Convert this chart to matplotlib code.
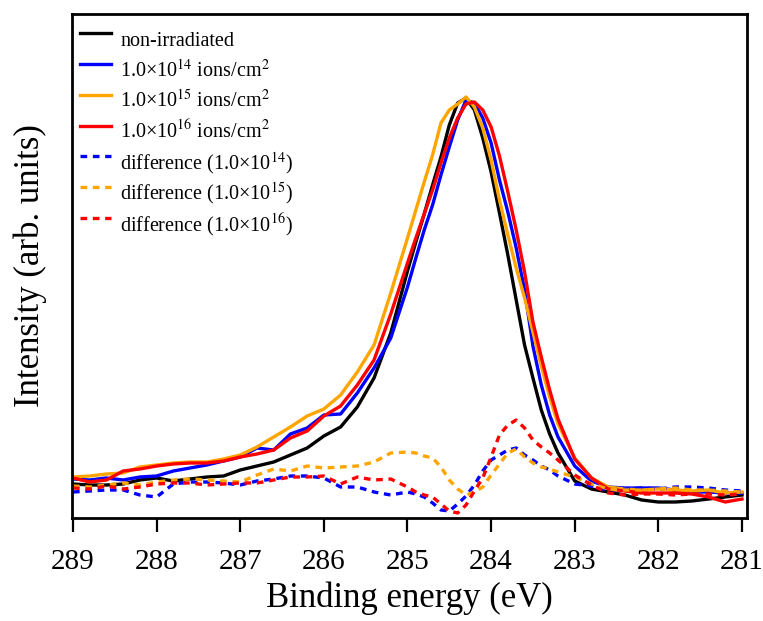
import matplotlib
matplotlib.use("Agg")
import matplotlib.pyplot as plt
import numpy as np

plt.rcParams['font.family'] = ['Liberation Serif', 'DejaVu Serif']
plt.rcParams['mathtext.fontset'] = 'stix'

# binding energy grid (eV)
energy = [289.0, 288.8, 288.6, 288.4, 288.2, 288.0, 287.8, 287.6, 287.4, 287.2,
          287.0, 286.8, 286.6, 286.4, 286.2, 286.0, 285.8, 285.6, 285.4, 285.2,
          285.0, 284.9, 284.8, 284.7, 284.6, 284.5, 284.4, 284.3, 284.2, 284.1,
          284.0, 283.9, 283.8, 283.7, 283.6, 283.5, 283.4, 283.3, 283.2, 283.0,
          282.8, 282.6, 282.4, 282.2, 282.0, 281.8, 281.6, 281.4, 281.2, 281.0]

# intensities (arb. units)
non_irr = [34, 33, 33, 34, 38, 40, 37, 39, 41, 42, 48, 52, 56, 63, 70, 82, 91, 111, 140, 185,
           247, 276, 304, 333, 361, 393, 415, 420, 408, 380, 346, 305, 263, 218, 173, 140, 108, 84, 65, 37,
           29, 26, 23, 18, 16, 16, 17, 19, 21, 23]
irr_14 = [39, 38, 40, 38, 41, 42, 47, 50, 53, 57, 61, 70, 68, 84, 90, 103, 104, 125, 150, 180,
          231, 260, 288, 313, 343, 371, 398, 418, 415, 400, 375, 338, 306, 270, 228, 172, 133, 103, 81, 52,
          37, 31, 30, 30, 30, 28, 26, 26, 25, 25]
irr_15 = [41, 42, 44, 45, 51, 53, 55, 56, 56, 59, 63, 71, 81, 91, 102, 109, 123, 146, 173, 225,
          280, 308, 336, 363, 395, 408, 414, 421, 411, 390, 358, 318, 283, 250, 220, 186, 152, 121, 94, 60,
          40, 31, 29, 28, 29, 28, 27, 28, 25, 26]
irr_16 = [40, 36, 38, 47, 49, 52, 54, 55, 55, 57, 61, 64, 68, 80, 87, 102, 112, 133, 158, 204,
          255, 280, 304, 328, 355, 380, 400, 414, 416, 408, 391, 362, 326, 288, 246, 196, 161, 128, 99, 59,
          40, 29, 27, 25, 25, 25, 24, 21, 16, 19]

diff_14 = [26, 27, 28, 28, 23, 21, 34, 36, 36, 35, 33, 37, 39, 42, 42, 40, 31, 31, 26, 23,
           26, 24, 21, 15, 8, 7, 14, 22, 33, 47, 58, 63, 68, 70, 63, 58, 52, 48, 42, 34,
           32, 28, 29, 30, 29, 31, 31, 30, 28, 27]
diff_15 = [32, 31, 33, 35, 33, 36, 38, 39, 38, 37, 36, 43, 49, 47, 52, 50, 51, 52, 56, 65,
           66, 65, 62, 60, 51, 38, 29, 23, 26, 31, 43, 54, 65, 69, 61, 55, 51, 49, 46, 41,
           34, 29, 28, 28, 29, 30, 28, 28, 27, 26]
diff_16 = [30, 29, 32, 29, 31, 34, 35, 35, 33, 34, 35, 35, 38, 41, 41, 42, 34, 41, 38, 39,
           31, 26, 23, 21, 14, 7, 5, 13, 27, 40, 61, 83, 93, 98, 90, 78, 71, 65, 58, 43,
           33, 25, 23, 24, 24, 23, 24, 24, 23, 24]

labels = ['non-irradiated',
          '1.0×10$^{14}$ ions/cm$^{2}$',
          '1.0×10$^{15}$ ions/cm$^{2}$',
          '1.0×10$^{16}$ ions/cm$^{2}$',
          'difference (1.0×10$^{14}$)',
          'difference (1.0×10$^{15}$)',
          'difference (1.0×10$^{16}$)']

fig = plt.figure(figsize=(7.63, 6.21), dpi=100)
ax = fig.add_axes([72 / 763, 103 / 621, 675 / 763, 504 / 621])

lw = 2.4
dash = (0, (2.0, 1.7))
ax.plot(energy, non_irr, color='black', lw=lw, label=labels[0])
ax.plot(energy, irr_14, color='#0000ff', lw=lw, label=labels[1])
ax.plot(energy, irr_15, color='#ffa500', lw=lw, label=labels[2])
ax.plot(energy, irr_16, color='#ff0000', lw=lw, label=labels[3])
ax.plot(energy, diff_14, color='#0000ff', lw=lw, ls=dash, label=labels[4])
ax.plot(energy, diff_15, color='#ffa500', lw=lw, ls=dash, label=labels[5])
ax.plot(energy, diff_16, color='#ff0000', lw=lw, ls=dash, label=labels[6])

ax.set_xlim(289.012, 280.94)
ax.set_ylim(0, 504)
ax.set_xticks(np.arange(289, 280.5, -1))
ax.set_yticks([])
ax.tick_params(axis='x', direction='out', length=10, width=1.6, pad=12, labelsize=21)
for s in ax.spines.values():
    s.set_linewidth(2.0)

ax.set_xlabel('Binding energy (eV)', fontsize=25, labelpad=5)
ax.set_ylabel('Intensity (arb. units)', fontsize=25, labelpad=18)

# tall handle boxes + negative spacing -> every row gets the same height
ax.legend(loc='upper left', frameon=False, fontsize=14.5, handlelength=1.55,
          handleheight=2.6, handletextpad=0.45, labelspacing=-0.40,
          borderaxespad=0.0, bbox_to_anchor=(0.0, 1.004))

fig.savefig('out.png', dpi=100)
